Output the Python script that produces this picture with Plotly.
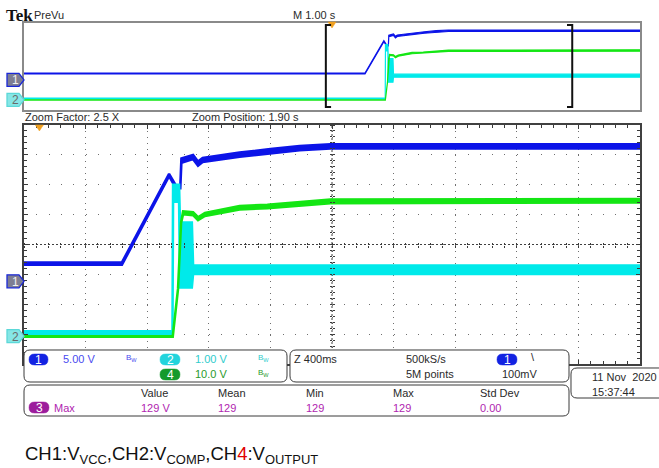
import plotly.graph_objects as go

W, H = 659, 468

# ---------------- data (seconds after trigger, volts) ----------------
ch1_t  = [-5.0, 0.536, 0.842, 0.887, 0.915, 0.922, 0.998, 1.03, 1.06, 1.30, 1.50, 1.69, 1.89, 5.0]
ch1_lo = [2.77, 2.77, 17.6, 15.6, 15.6, 19.85, 20.45, 19.35, 19.95, 20.85, 21.45, 21.95, 22.25, 22.25]
ch1_hi = [3.17, 3.17, 18.0, 16.0, 16.0, 20.55, 21.15, 20.05, 20.65, 21.55, 22.15, 22.65, 22.95, 22.95]

ch2_t  = [-5.0, 0.864, 0.868, 0.907, 0.913, 0.99, 0.998, 5.0]
ch2_lo = [0.08, 0.08, 4.5, 4.5, 1.63, 1.63, 2.08, 2.08]
ch2_hi = [0.16, 0.16, 5.07, 5.07, 3.8, 3.8, 2.36, 2.36]

ch4_t  = [-5.0, 0.866, 0.90, 0.92, 0.933, 0.998, 1.03, 1.075, 1.30, 1.48, 1.89, 5.0]
ch4_lo = [-0.2, -0.2, 15.6, 37.9, 40.8, 40.5, 38.8, 40.2, 42.4, 42.8, 44.5, 44.8]
ch4_hi = [0.0, 0.0, 15.8, 38.1, 41.8, 41.5, 39.8, 41.2, 43.6, 44.0, 45.7, 46.0]

# channel vertical settings: volts/div and ground position (div)
ch_scale = {"1": 5.0, "2": 1.0, "4": 10.0}
ch_pos = {"1": -1.233, "2": -3.067, "4": -3.067}

main_range = [-0.1, 3.9]      # 400 ms/div zoom window
prev_range = [-5.0, 5.0]      # 1 s/div

readout_ch = [("1", "5.00 V"), ("2", "1.00 V"), ("4", "10.0 V")]
meas_heads = ["Value", "Mean", "Min", "Max", "Std Dev"]
meas_vals = ["129 V", "129", "129", "129", "0.00"]

BLUE = "#0c14e8"
CYAN = "#00eaea"
GREEN = "#14e614"
FONT = "Liberation Sans, Arial, sans-serif"
FS = 11
TXT = "#2a2a2a"

def band(t, lo, hi, ch):
    s, p = ch_scale[ch], ch_pos[ch]
    xs = list(t) + list(t)[::-1]
    ys = [v / s + p for v in hi] + [v / s + p for v in lo][::-1]
    return xs, ys

fig = go.Figure()
for (t, lo, hi, ch, col) in [(ch1_t, ch1_lo, ch1_hi, "1", BLUE),
                             (ch2_t, ch2_lo, ch2_hi, "2", CYAN),
                             (ch4_t, ch4_lo, ch4_hi, "4", GREEN)]:
    xs, ys = band(t, lo, hi, ch)
    fig.add_trace(go.Scatter(x=xs, y=ys, xaxis="x", yaxis="y", mode="lines", fill="toself",
                             fillcolor=col, line=dict(color=col, width=1.2),
                             showlegend=False, hoverinfo="skip"))
    fig.add_trace(go.Scatter(x=xs, y=ys, xaxis="x2", yaxis="y2", mode="lines", fill="toself",
                             fillcolor=col, line=dict(color=col, width=2.5),
                             showlegend=False, hoverinfo="skip"))

# dummy traces so the crosshair tick axes are drawn
for xa, ya in [("x3", "y2"), ("x4", "y2"), ("x2", "y3"), ("x2", "y4")]:
    fig.add_trace(go.Scatter(x=[None], y=[None], xaxis=xa, yaxis=ya, showlegend=False, hoverinfo="skip"))

def px(x):
    return x / W

def py(y):
    return 1 - y / H

XD = [px(24), px(640)]
grid_col = "#6f6f6f"
tick_col = "#3a3a3a"

fig.update_layout(
    width=W, height=H, margin=dict(l=0, r=0, t=0, b=0),
    paper_bgcolor="white", plot_bgcolor="white",
    xaxis=dict(domain=XD, range=prev_range, anchor="y", showgrid=False, zeroline=False,
               showticklabels=False, ticks="", showline=True, mirror=True,
               linecolor="#8a8a8a", linewidth=2),
    yaxis=dict(domain=[py(110), py(23)], range=[-4, 4], anchor="x", showgrid=False, zeroline=False,
               showticklabels=False, ticks="", showline=True, mirror=True,
               linecolor="#8a8a8a", linewidth=2),
    xaxis2=dict(domain=XD, range=main_range, anchor="y2", tickmode="linear", tick0=-0.1, dtick=0.4,
                showgrid=True, gridcolor=grid_col, gridwidth=1, griddash="1px,5px",
                zeroline=False, showticklabels=False, ticks="inside", ticklen=4,
                tickcolor=tick_col, showline=True, mirror="ticks", linecolor="#404040", linewidth=1.5,
                minor=dict(tick0=-0.1, dtick=0.08, ticks="inside", ticklen=3, tickcolor=tick_col, showgrid=False)),
    yaxis2=dict(domain=[py(364), py(125)], range=[-4, 4], anchor="x2", tickmode="linear", tick0=-4, dtick=1,
                showgrid=True, gridcolor=grid_col, gridwidth=1, griddash="1px,11.32px",
                zeroline=False, showticklabels=False, ticks="inside", ticklen=4,
                tickcolor=tick_col, showline=True, mirror="ticks", linecolor="#404040", linewidth=1.5,
                minor=dict(tick0=-4, dtick=0.2, ticks="inside", ticklen=3, tickcolor=tick_col, showgrid=False)),
    xaxis3=dict(overlaying="x2", anchor="free", position=py(245), side="bottom", range=main_range,
                tickmode="linear", tick0=-0.1, dtick=0.08, ticks="outside", ticklen=2, tickcolor=tick_col,
                showticklabels=False, showgrid=False, zeroline=False, showline=False),
    xaxis4=dict(overlaying="x2", anchor="free", position=py(245), side="top", range=main_range,
                tickmode="linear", tick0=-0.1, dtick=0.08, ticks="outside", ticklen=2, tickcolor=tick_col,
                showticklabels=False, showgrid=False, zeroline=False, showline=False),
    yaxis3=dict(overlaying="y2", anchor="free", position=px(332), side="left", range=[-4, 4],
                tickmode="linear", tick0=-4, dtick=0.2, ticks="outside", ticklen=2, tickcolor=tick_col,
                showticklabels=False, showgrid=False, zeroline=False, showline=False),
    yaxis4=dict(overlaying="y2", anchor="free", position=px(332), side="right", range=[-4, 4],
                tickmode="linear", tick0=-4, dtick=0.2, ticks="outside", ticklen=2, tickcolor=tick_col,
                showticklabels=False, showgrid=False, zeroline=False, showline=False),
)

shapes = []
# crosshair dashed lines
shapes.append(dict(type="line", xref="x2", yref="y2", x0=main_range[0], x1=main_range[1], y0=0, y1=0,
                   line=dict(color="#404040", width=1, dash="2px,2px"), layer="between"))
shapes.append(dict(type="line", xref="x2", yref="y2", x0=sum(main_range) / 2, x1=sum(main_range) / 2,
                   y0=-4, y1=4, line=dict(color="#404040", width=1, dash="2px,2px"), layer="between"))

def P(x, y):
    return f"{px(x):.5f},{py(y):.5f}"

def rrect(x0, y0, x1, y1, r, fill, line, lw):
    path = (f"M{P(x0 + r, y0)} L{P(x1 - r, y0)} Q{P(x1, y0)} {P(x1, y0 + r)} "
            f"L{P(x1, y1 - r)} Q{P(x1, y1)} {P(x1 - r, y1)} L{P(x0 + r, y1)} "
            f"Q{P(x0, y1)} {P(x0, y1 - r)} L{P(x0, y0 + r)} Q{P(x0, y0)} {P(x0 + r, y0)} Z")
    return dict(type="path", path=path, xref="paper", yref="paper", fillcolor=fill,
                line=dict(color=line, width=lw), layer="above")

# readout panels
shapes.append(rrect(24, 350, 287, 382, 6, "white", "#3a3a3a", 1))
shapes.append(rrect(290, 350, 569, 382, 6, "white", "#3a3a3a", 1))
shapes.append(rrect(24, 385, 569, 416, 6, "white", "#3a3a3a", 1))
shapes.append(rrect(571, 368, 668, 398, 6, "white", "#3a3a3a", 1))

PILL = {"1": "#1222e2", "2": "#22d4dc", "4": "#159a2c", "3": "#9c1c9c"}
pills = [(29, 354, 48, 365, "1"), (160, 354, 180, 365, "2"), (160, 369, 180, 380, "4"),
         (497, 354, 517, 365, "1"), (29, 402, 49, 413, "3")]
for (x0, y0, x1, y1, c) in pills:
    shapes.append(rrect(x0, y0, x1, y1, 5.5, PILL[c], PILL[c], 0.5))

# ground markers (pentagons) placed at channel ground positions
def gmark(yref, pos, ppd, fill, border):
    h = 6.5 / ppd
    path = (f"M{px(7):.5f},{pos + h:.4f} L{px(19):.5f},{pos + h:.4f} L{px(24):.5f},{pos:.4f} "
            f"L{px(19):.5f},{pos - h:.4f} L{px(7):.5f},{pos - h:.4f} Z")
    return dict(type="path", path=path, xref="paper", yref=yref, fillcolor=fill,
                line=dict(color=border, width=1.3), layer="above")

shapes.append(gmark("y", ch_pos["1"], 10.875, "#7e7e92", "#1a28d8"))
shapes.append(gmark("y", ch_pos["2"], 10.875, "#86e6e6", "#5cd8d8"))
shapes.append(gmark("y2", ch_pos["1"], 30.0, "#7e7e92", "#1a28d8"))
shapes.append(gmark("y2", ch_pos["2"], 30.0, "#86e6e6", "#5cd8d8"))

# trigger markers
def trig(xref, ytop, half):
    path = f"M{-half},{py(ytop):.5f} L{half},{py(ytop):.5f} L0,{py(ytop + 6):.5f} Z"
    return dict(type="path", path=path, xref=xref, yref="paper", fillcolor="#f0a020",
                line=dict(color="#f0a020", width=0.5), layer="above")

shapes.append(trig("x", 22, 0.065))
shapes.append(trig("x2", 125, 0.026))

# zoom window brackets on the preview
bl, br = main_range
sw = 0.085
shapes.append(dict(type="path", xref="x", yref="paper",
                   path=f"M{bl + sw},{py(25):.5f} L{bl},{py(25):.5f} L{bl},{py(107):.5f} L{bl + sw},{py(107):.5f}",
                   line=dict(color="#111111", width=2), layer="above"))
shapes.append(dict(type="path", xref="x", yref="paper",
                   path=f"M{br - sw},{py(25):.5f} L{br},{py(25):.5f} L{br},{py(107):.5f} L{br - sw},{py(107):.5f}",
                   line=dict(color="#111111", width=2), layer="above"))

fig.update_layout(shapes=shapes)

ann = []

def txt(x, y, s, size=FS, color=TXT, family=FONT, anchor="left"):
    ann.append(dict(x=px(x), y=py(y), xref="paper", yref="paper", text=s, showarrow=False,
                    xanchor=anchor, yanchor="middle", borderpad=0,
                    font=dict(size=size, color=color, family=family)))

txt(5, 16, "<b>Tek</b>", 17, "#111111", "Liberation Serif, serif")
txt(33, 15, "PreVu")
txt(292, 15, "M 1.00 s")
txt(24, 117, "Zoom Factor: 2.5 X")
txt(191, 117, "Zoom Position: 1.90 s")

# ground marker labels
txt(15, 79.8, "1", 12, "#f0f0f0", anchor="center")
txt(15, 99.8, "2", 12, "#6a6a6a", anchor="center")
txt(15, 282, "1", 12, "#f0f0f0", anchor="center")
txt(15, 337, "2", 12, "#6a6a6a", anchor="center")

# pill labels
for (x0, y0, x1, y1, c) in pills:
    txt((x0 + x1) / 2, (y0 + y1) / 2 + 0.5, c, 12, "white", anchor="center")

# channel readouts
RC = {"1": "#4a4af0", "2": "#30cccc", "4": "#2a9a2a"}
rpos = {"1": (62, 359, 125), "2": (194, 359, 257), "4": (194, 374, 257)}
for ch, lab in readout_ch:
    x, y, bx = rpos[ch]
    txt(x, y, lab, FS, RC[ch])
    txt(bx, y - 1, "B<sub>W</sub>", 8, RC[ch])

txt(293, 359, "Z 400ms")
txt(405, 359, "500kS/s")
txt(405, 374, "5M points")
txt(530, 357, "\\")
txt(501, 374, "100mV")

PUR = "#b01eb0"
txt(53, 408, "Max", FS, PUR)
hx = [140, 217, 305, 392, 479]
for x, h, v in zip(hx, meas_heads, meas_vals):
    txt(x, 393, h)
    txt(x, 408, v, FS, PUR)

txt(591, 377, "11 Nov  2020")
txt(591, 392, "15:37:44")

# caption
txt(24, 455, "CH1:V<sub>VCC</sub>,CH2:V<sub>COMP</sub>,CH<span style='color:#e00000'>4</span>:V<sub>OUTPUT</sub>",
    18.5, "#111111", "Liberation Sans, Arial, sans-serif")

fig.update_layout(annotations=ann)
fig.write_html("out.html")
